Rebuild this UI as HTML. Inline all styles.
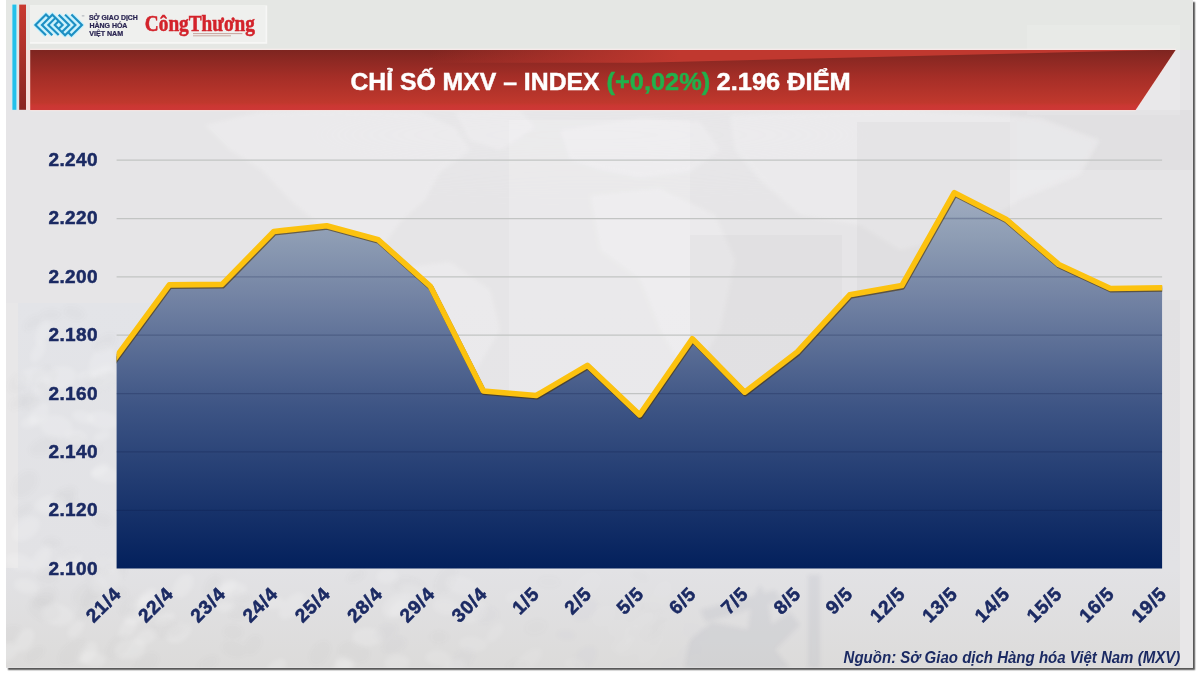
<!DOCTYPE html>
<html lang="vi">
<head>
<meta charset="utf-8">
<title>Chỉ số MXV – Index</title>
<style>
html,body{margin:0;padding:0;background:#fff;}
body{width:1200px;height:675px;overflow:hidden;position:relative;font-family:"Liberation Sans",sans-serif;}
#panel{position:absolute;left:6px;top:0;width:1186.5px;height:667.5px;background:#e6e5e7;box-shadow:2.2px 2.2px 1.3px rgba(80,80,80,.95);}
svg{position:absolute;left:0;top:0;}
.ylab text,.xlab text{font-family:"Liberation Sans",sans-serif;font-weight:bold;font-size:19px;fill:#1b2a63;stroke:#1b2a63;stroke-width:.5px;letter-spacing:.4px;}
.xlab text{letter-spacing:.9px;stroke-width:.55px;}
.mxvt text{font-family:"Liberation Sans",sans-serif;font-weight:bold;font-size:6.9px;fill:#2a2552;stroke:#2a2552;stroke-width:.22px;}
.ct{font-family:"Liberation Serif",serif;font-weight:bold;font-size:22.9px;fill:#d3232b;stroke:#d3232b;stroke-width:.55px;}
.grid line{stroke:#c2c4c3;stroke-width:1.25;}
.grid2 line{stroke:#0a1440;stroke-opacity:.22;stroke-width:1.3;}
.title text{font-family:"Liberation Sans",sans-serif;font-weight:bold;font-size:23.7px;fill:#fff;stroke:#fff;stroke-width:.45px;}
.src{font-family:"Liberation Sans",sans-serif;font-weight:bold;font-style:italic;font-size:15.7px;fill:#1b2a63;}
</style>
</head>
<body>
<div id="panel"></div>
<svg width="1200" height="675" viewBox="0 0 1200 675">
<defs>
<clipPath id="aclip"><polygon points="116.6,568.6 116.6,356.4 169.3,284.9 222.0,284.4 273.8,231.5 326.7,225.7 378.3,239.8 430.4,286.4 483.3,391.0 536.2,395.5 587.4,365.3 639.6,414.9 692.3,338.8 744.7,392.2 797.3,351.9 849.7,294.8 901.8,285.6 954.3,192.7 1006.0,219.2 1058.8,264.5 1110.5,288.5 1162.1,287.7 1162.1,568.6"/></clipPath>
<clipPath id="plot"><rect x="116.6" y="150" width="1045.6" height="430"/></clipPath>
<clipPath id="pclip"><rect x="6" y="0" width="1186.5" height="667.5"/></clipPath>
<filter id="b4" x="-20%" y="-20%" width="140%" height="140%"><feGaussianBlur stdDeviation="4"/></filter>
<filter id="b2" x="-20%" y="-20%" width="140%" height="140%"><feGaussianBlur stdDeviation="2"/></filter>
<filter id="b25" x="-30%" y="-60%" width="160%" height="220%"><feGaussianBlur stdDeviation="25"/></filter>
<linearGradient id="photo" x1="0" y1="303" x2="0" y2="668" gradientUnits="userSpaceOnUse">
<stop offset="0" stop-color="#e3e4e8"/><stop offset=".72" stop-color="#e2e2e5"/><stop offset="1" stop-color="#dcdbda"/>
</linearGradient>
<linearGradient id="photo2" x1="0" y1="303" x2="0" y2="668" gradientUnits="userSpaceOnUse">
<stop offset="0" stop-color="#e3e4e8" stop-opacity="0"/><stop offset=".55" stop-color="#e2e2e6" stop-opacity=".3"/><stop offset=".73" stop-color="#e2e2e5" stop-opacity="1"/><stop offset="1" stop-color="#dcdbda"/>
</linearGradient>
<linearGradient id="ban" x1="0" y1="50" x2="0" y2="110" gradientUnits="userSpaceOnUse">
<stop offset="0" stop-color="#7e2520"/><stop offset=".45" stop-color="#a52e27"/><stop offset=".88" stop-color="#c0382d"/><stop offset=".93" stop-color="#cb3733"/><stop offset="1" stop-color="#cd3836"/>
</linearGradient>
<linearGradient id="rbar" x1="0" y1="5" x2="0" y2="109" gradientUnits="userSpaceOnUse">
<stop offset="0" stop-color="#c83a30"/><stop offset="1" stop-color="#892622"/>
</linearGradient>
<linearGradient id="wedge" x1="430" y1="0" x2="680" y2="0" gradientUnits="userSpaceOnUse">
<stop offset="0" stop-color="#c0382f" stop-opacity="0"/><stop offset="1" stop-color="#c0382f" stop-opacity="1"/>
</linearGradient>
<linearGradient id="area" x1="0" y1="190" x2="0" y2="568.6" gradientUnits="userSpaceOnUse">
<stop offset="0" stop-color="#a2aec2"/>
<stop offset="0.124" stop-color="#8e9db4"/>
<stop offset="0.29" stop-color="#7282a3"/>
<stop offset="0.568" stop-color="#3e5585"/>
<stop offset="0.766" stop-color="#223c72"/>
<stop offset="1" stop-color="#03205c"/>
</linearGradient>
</defs>

<!-- background: faint map + photo overlays -->
<g clip-path="url(#pclip)">
<rect x="6" y="0" width="1187" height="50" fill="#e5e7e4"/>
<ellipse cx="590" cy="135" rx="330" ry="32" fill="#f1f0f3" opacity=".2" filter="url(#b25)"/>
<rect x="1010" y="110" width="183" height="60" fill="#000" opacity=".02"/>
<!-- world map hints -->
<g fill="#f2f1f3" opacity=".45" filter="url(#b2)">
<path d="M205,125 L260,112 L340,110 L420,112 L455,128 L470,150 L440,172 L425,200 L400,222 L380,250 L360,262 L345,240 L320,225 L290,200 L262,170 L230,150 Z"/>
<path d="M455,112 L520,110 L535,128 L500,150 L470,140 Z"/>
<path d="M400,268 L450,262 L490,290 L500,330 L470,380 L450,420 L435,380 L420,330 Z"/>
<path d="M560,130 L640,118 L700,122 L720,150 L690,172 L640,178 L600,170 L570,160 Z"/>
<path d="M590,195 L660,188 L715,215 L735,260 L720,330 L690,380 L660,330 L640,280 L600,250 Z"/>
<path d="M730,115 L900,110 L1040,118 L1100,140 L1080,175 L1020,200 L960,235 L900,250 L860,225 L800,215 L760,180 L735,150 Z"/>
<path d="M1010,330 L1080,320 L1105,350 L1070,380 L1020,370 Z"/>
</g>
<!-- faint photo rectangles -->
<rect x="857" y="122" width="153" height="450" fill="#000" opacity=".022"/>
<rect x="690" y="235" width="152" height="340" fill="#000" opacity=".02"/>
<rect x="1027" y="25" width="153" height="90" fill="#fff" opacity=".12"/>
<rect x="1163" y="300" width="17" height="368" fill="#000" opacity=".015"/>
<!-- bottom photo overlay -->
<rect x="18" y="303" width="219" height="366" fill="url(#photo)"/>
<rect x="237" y="303" width="943" height="366" fill="url(#photo2)"/>
<rect x="509" y="120" width="181" height="450" fill="#fff" opacity=".16"/>
<rect x="6" y="303" width="12" height="265" fill="#ececec" opacity=".35"/>
<rect x="6" y="568" width="12" height="101" fill="url(#photo)"/>
<rect x="1180" y="300" width="13" height="368" fill="#ececec" opacity=".4"/>
<g filter="url(#b2)">
<ellipse cx="228" cy="586" rx="9.6" ry="5.8" fill="#ffffff" opacity="0.170" transform="rotate(-31 228 586)"/>
<ellipse cx="356" cy="576" rx="9.6" ry="5.0" fill="#70758a" opacity="0.030" transform="rotate(-26 356 576)"/>
<ellipse cx="88" cy="593" rx="16.6" ry="10.2" fill="#70758a" opacity="0.030" transform="rotate(-28 88 593)"/>
<ellipse cx="35" cy="654" rx="10.2" ry="5.3" fill="#70758a" opacity="0.030" transform="rotate(-35 35 654)"/>
<ellipse cx="128" cy="628" rx="12.0" ry="7.3" fill="#ffffff" opacity="0.170" transform="rotate(-55 128 628)"/>
<ellipse cx="146" cy="637" rx="11.5" ry="7.1" fill="#ffffff" opacity="0.170" transform="rotate(-24 146 637)"/>
<ellipse cx="72" cy="447" rx="16.0" ry="10.3" fill="#70758a" opacity="0.030" transform="rotate(-37 72 447)"/>
<ellipse cx="84" cy="612" rx="10.2" ry="6.1" fill="#70758a" opacity="0.030" transform="rotate(-57 84 612)"/>
<ellipse cx="536" cy="627" rx="11.5" ry="7.4" fill="#70758a" opacity="0.015" transform="rotate(-12 536 627)"/>
<ellipse cx="320" cy="653" rx="12.8" ry="8.1" fill="#70758a" opacity="0.030" transform="rotate(-55 320 653)"/>
<ellipse cx="454" cy="667" rx="11.3" ry="6.5" fill="#ffffff" opacity="0.124" transform="rotate(-7 454 667)"/>
<ellipse cx="24" cy="510" rx="10.0" ry="5.5" fill="#70758a" opacity="0.030" transform="rotate(-29 24 510)"/>
<ellipse cx="58" cy="615" rx="16.1" ry="10.7" fill="#ffffff" opacity="0.170" transform="rotate(9 58 615)"/>
<ellipse cx="292" cy="606" rx="16.7" ry="8.8" fill="#ffffff" opacity="0.170" transform="rotate(-46 292 606)"/>
<ellipse cx="165" cy="619" rx="11.1" ry="5.6" fill="#ffffff" opacity="0.170" transform="rotate(-26 165 619)"/>
<ellipse cx="397" cy="663" rx="13.1" ry="8.2" fill="#ffffff" opacity="0.149" transform="rotate(-6 397 663)"/>
<ellipse cx="630" cy="647" rx="15.4" ry="8.9" fill="#ffffff" opacity="0.045" transform="rotate(-28 630 647)"/>
<ellipse cx="38" cy="352" rx="11.7" ry="6.0" fill="#ffffff" opacity="0.170" transform="rotate(-60 38 352)"/>
<ellipse cx="100" cy="470" rx="10.2" ry="5.6" fill="#ffffff" opacity="0.170" transform="rotate(-32 100 470)"/>
<ellipse cx="88" cy="653" rx="12.7" ry="7.6" fill="#ffffff" opacity="0.170" transform="rotate(-53 88 653)"/>
<ellipse cx="241" cy="597" rx="10.3" ry="5.2" fill="#70758a" opacity="0.030" transform="rotate(16 241 597)"/>
<ellipse cx="68" cy="564" rx="15.9" ry="10.2" fill="#ffffff" opacity="0.170" transform="rotate(-39 68 564)"/>
<ellipse cx="119" cy="646" rx="15.2" ry="8.6" fill="#70758a" opacity="0.030" transform="rotate(-42 119 646)"/>
<ellipse cx="689" cy="654" rx="15.5" ry="10.1" fill="#70758a" opacity="0.004" transform="rotate(-42 689 654)"/>
<ellipse cx="44" cy="377" rx="14.5" ry="10.1" fill="#70758a" opacity="0.030" transform="rotate(-24 44 377)"/>
<ellipse cx="692" cy="664" rx="10.8" ry="5.9" fill="#ffffff" opacity="0.026" transform="rotate(-44 692 664)"/>
<ellipse cx="438" cy="658" rx="12.8" ry="8.1" fill="#ffffff" opacity="0.131" transform="rotate(4 438 658)"/>
<ellipse cx="463" cy="659" rx="15.0" ry="8.9" fill="#70758a" opacity="0.021" transform="rotate(-46 463 659)"/>
<ellipse cx="234" cy="649" rx="12.2" ry="7.1" fill="#70758a" opacity="0.030" transform="rotate(16 234 649)"/>
<ellipse cx="103" cy="520" rx="10.2" ry="6.8" fill="#70758a" opacity="0.030" transform="rotate(18 103 520)"/>
<ellipse cx="19" cy="562" rx="14.2" ry="8.6" fill="#ffffff" opacity="0.170" transform="rotate(15 19 562)"/>
<ellipse cx="42" cy="386" rx="10.9" ry="6.7" fill="#ffffff" opacity="0.170" transform="rotate(-39 42 386)"/>
<ellipse cx="93" cy="659" rx="12.7" ry="7.8" fill="#ffffff" opacity="0.170" transform="rotate(12 93 659)"/>
<ellipse cx="643" cy="620" rx="13.2" ry="6.6" fill="#ffffff" opacity="0.039" transform="rotate(-25 643 620)"/>
<ellipse cx="63" cy="499" rx="13.5" ry="7.6" fill="#70758a" opacity="0.030" transform="rotate(-19 63 499)"/>
<ellipse cx="549" cy="582" rx="11.0" ry="6.1" fill="#70758a" opacity="0.014" transform="rotate(2 549 582)"/>
<ellipse cx="394" cy="645" rx="12.5" ry="7.8" fill="#70758a" opacity="0.027" transform="rotate(-20 394 645)"/>
<ellipse cx="486" cy="615" rx="12.8" ry="8.8" fill="#70758a" opacity="0.019" transform="rotate(-4 486 615)"/>
<ellipse cx="660" cy="597" rx="16.5" ry="11.1" fill="#ffffff" opacity="0.031" transform="rotate(-49 660 597)"/>
<ellipse cx="25" cy="484" rx="15.3" ry="10.4" fill="#70758a" opacity="0.030" transform="rotate(-48 25 484)"/>
<ellipse cx="463" cy="586" rx="16.7" ry="9.1" fill="#ffffff" opacity="0.120" transform="rotate(16 463 586)"/>
<ellipse cx="342" cy="667" rx="10.3" ry="6.0" fill="#ffffff" opacity="0.170" transform="rotate(-19 342 667)"/>
<ellipse cx="139" cy="603" rx="9.2" ry="5.6" fill="#ffffff" opacity="0.170" transform="rotate(-25 139 603)"/>
<ellipse cx="233" cy="632" rx="9.5" ry="6.6" fill="#70758a" opacity="0.030" transform="rotate(3 233 632)"/>
<ellipse cx="91" cy="380" rx="10.0" ry="5.9" fill="#70758a" opacity="0.030" transform="rotate(13 91 380)"/>
<ellipse cx="183" cy="586" rx="13.6" ry="8.7" fill="#ffffff" opacity="0.170" transform="rotate(-53 183 586)"/>
<ellipse cx="106" cy="475" rx="15.4" ry="8.0" fill="#ffffff" opacity="0.170" transform="rotate(8 106 475)"/>
<ellipse cx="604" cy="616" rx="13.4" ry="9.2" fill="#ffffff" opacity="0.056" transform="rotate(-39 604 616)"/>
<ellipse cx="33" cy="323" rx="10.6" ry="6.0" fill="#70758a" opacity="0.030" transform="rotate(-36 33 323)"/>
<ellipse cx="51" cy="315" rx="11.0" ry="5.5" fill="#70758a" opacity="0.030" transform="rotate(-1 51 315)"/>
<ellipse cx="134" cy="618" rx="9.9" ry="6.5" fill="#ffffff" opacity="0.170" transform="rotate(-25 134 618)"/>
<ellipse cx="585" cy="610" rx="14.5" ry="10.1" fill="#70758a" opacity="0.011" transform="rotate(-33 585 610)"/>
<ellipse cx="495" cy="633" rx="11.8" ry="6.0" fill="#ffffff" opacity="0.105" transform="rotate(-50 495 633)"/>
<ellipse cx="26" cy="529" rx="16.0" ry="10.1" fill="#ffffff" opacity="0.170" transform="rotate(-37 26 529)"/>
<ellipse cx="60" cy="378" rx="16.7" ry="11.6" fill="#ffffff" opacity="0.170" transform="rotate(-16 60 378)"/>
<ellipse cx="676" cy="602" rx="9.0" ry="5.2" fill="#70758a" opacity="0.004" transform="rotate(-22 676 602)"/>
<ellipse cx="43" cy="333" rx="12.2" ry="6.2" fill="#ffffff" opacity="0.170" transform="rotate(-58 43 333)"/>
<ellipse cx="165" cy="628" rx="15.0" ry="9.5" fill="#70758a" opacity="0.030" transform="rotate(-3 165 628)"/>
<ellipse cx="274" cy="603" rx="10.2" ry="6.6" fill="#ffffff" opacity="0.170" transform="rotate(-9 274 603)"/>
<ellipse cx="585" cy="658" rx="14.9" ry="9.9" fill="#70758a" opacity="0.011" transform="rotate(-49 585 658)"/>
<ellipse cx="354" cy="652" rx="15.6" ry="9.6" fill="#70758a" opacity="0.030" transform="rotate(11 354 652)"/>
<ellipse cx="31" cy="404" rx="9.8" ry="6.6" fill="#70758a" opacity="0.030" transform="rotate(-15 31 404)"/>
<ellipse cx="439" cy="637" rx="9.0" ry="6.0" fill="#70758a" opacity="0.023" transform="rotate(-0 439 637)"/>
<ellipse cx="87" cy="376" rx="9.6" ry="5.3" fill="#ffffff" opacity="0.170" transform="rotate(-2 87 376)"/>
<ellipse cx="518" cy="666" rx="12.1" ry="7.2" fill="#70758a" opacity="0.017" transform="rotate(-5 518 666)"/>
<ellipse cx="32" cy="376" rx="14.9" ry="8.4" fill="#ffffff" opacity="0.170" transform="rotate(-15 32 376)"/>
<ellipse cx="44" cy="598" rx="14.5" ry="9.2" fill="#70758a" opacity="0.030" transform="rotate(-37 44 598)"/>
<ellipse cx="102" cy="362" rx="16.8" ry="11.6" fill="#ffffff" opacity="0.170" transform="rotate(-59 102 362)"/>
<ellipse cx="574" cy="665" rx="11.1" ry="6.0" fill="#ffffff" opacity="0.070" transform="rotate(16 574 665)"/>
<ellipse cx="408" cy="586" rx="16.6" ry="8.8" fill="#70758a" opacity="0.025" transform="rotate(6 408 586)"/>
<ellipse cx="102" cy="436" rx="9.2" ry="4.6" fill="#ffffff" opacity="0.170" transform="rotate(-21 102 436)"/>
<ellipse cx="213" cy="586" rx="11.5" ry="7.7" fill="#70758a" opacity="0.030" transform="rotate(-60 213 586)"/>
<ellipse cx="588" cy="584" rx="14.7" ry="10.0" fill="#ffffff" opacity="0.064" transform="rotate(-37 588 584)"/>
<ellipse cx="276" cy="668" rx="11.9" ry="7.0" fill="#ffffff" opacity="0.170" transform="rotate(-38 276 668)"/>
<ellipse cx="73" cy="652" rx="16.5" ry="9.1" fill="#70758a" opacity="0.030" transform="rotate(-39 73 652)"/>
<ellipse cx="135" cy="608" rx="16.1" ry="10.6" fill="#70758a" opacity="0.030" transform="rotate(-10 135 608)"/>
<ellipse cx="659" cy="625" rx="9.4" ry="6.1" fill="#70758a" opacity="0.006" transform="rotate(-24 659 625)"/>
<ellipse cx="105" cy="343" rx="12.8" ry="7.3" fill="#70758a" opacity="0.030" transform="rotate(-36 105 343)"/>
<ellipse cx="683" cy="597" rx="11.4" ry="7.0" fill="#ffffff" opacity="0.026" transform="rotate(-28 683 597)"/>
<ellipse cx="115" cy="592" rx="13.0" ry="7.1" fill="#70758a" opacity="0.030" transform="rotate(13 115 592)"/>
<ellipse cx="27" cy="399" rx="9.7" ry="5.3" fill="#70758a" opacity="0.030" transform="rotate(-39 27 399)"/>
<ellipse cx="621" cy="644" rx="12.3" ry="7.4" fill="#ffffff" opacity="0.049" transform="rotate(-30 621 644)"/>
<ellipse cx="45" cy="599" rx="10.0" ry="6.0" fill="#70758a" opacity="0.030" transform="rotate(-10 45 599)"/>
<ellipse cx="56" cy="426" rx="16.6" ry="11.1" fill="#ffffff" opacity="0.170" transform="rotate(10 56 426)"/>
<ellipse cx="25" cy="640" rx="12.8" ry="7.9" fill="#ffffff" opacity="0.170" transform="rotate(-60 25 640)"/>
<ellipse cx="649" cy="651" rx="16.8" ry="9.2" fill="#ffffff" opacity="0.036" transform="rotate(-51 649 651)"/>
<ellipse cx="367" cy="637" rx="14.8" ry="9.3" fill="#ffffff" opacity="0.163" transform="rotate(1 367 637)"/>
<ellipse cx="387" cy="576" rx="10.9" ry="7.4" fill="#ffffff" opacity="0.153" transform="rotate(-8 387 576)"/>
<ellipse cx="91" cy="596" rx="14.6" ry="7.6" fill="#70758a" opacity="0.030" transform="rotate(-54 91 596)"/>
<ellipse cx="74" cy="313" rx="11.4" ry="6.8" fill="#70758a" opacity="0.030" transform="rotate(17 74 313)"/>
<ellipse cx="41" cy="560" rx="14.6" ry="8.2" fill="#ffffff" opacity="0.170" transform="rotate(-58 41 560)"/>
<ellipse cx="473" cy="612" rx="14.3" ry="9.8" fill="#ffffff" opacity="0.115" transform="rotate(-42 473 612)"/>
<ellipse cx="238" cy="612" rx="10.6" ry="7.0" fill="#70758a" opacity="0.030" transform="rotate(-1 238 612)"/>
<ellipse cx="145" cy="665" rx="15.6" ry="8.5" fill="#70758a" opacity="0.030" transform="rotate(-42 145 665)"/>
<ellipse cx="208" cy="663" rx="10.5" ry="5.7" fill="#70758a" opacity="0.030" transform="rotate(-27 208 663)"/>
<ellipse cx="664" cy="586" rx="10.7" ry="7.4" fill="#ffffff" opacity="0.029" transform="rotate(-49 664 586)"/>
<ellipse cx="44" cy="610" rx="16.1" ry="10.4" fill="#70758a" opacity="0.030" transform="rotate(20 44 610)"/>
<ellipse cx="232" cy="590" rx="15.0" ry="7.6" fill="#ffffff" opacity="0.170" transform="rotate(-7 232 590)"/>
<ellipse cx="18" cy="383" rx="11.8" ry="8.2" fill="#70758a" opacity="0.030" transform="rotate(-50 18 383)"/>
<ellipse cx="147" cy="606" rx="15.6" ry="9.1" fill="#ffffff" opacity="0.170" transform="rotate(-56 147 606)"/>
<ellipse cx="52" cy="543" rx="9.2" ry="5.4" fill="#70758a" opacity="0.030" transform="rotate(5 52 543)"/>
<ellipse cx="104" cy="377" rx="15.0" ry="10.2" fill="#ffffff" opacity="0.170" transform="rotate(-33 104 377)"/>
<ellipse cx="670" cy="631" rx="14.7" ry="8.3" fill="#ffffff" opacity="0.027" transform="rotate(-38 670 631)"/>
<ellipse cx="529" cy="660" rx="16.5" ry="8.4" fill="#ffffff" opacity="0.090" transform="rotate(-41 529 660)"/>
<ellipse cx="670" cy="664" rx="11.0" ry="6.5" fill="#70758a" opacity="0.005" transform="rotate(-21 670 664)"/>
<ellipse cx="130" cy="649" rx="15.6" ry="10.2" fill="#ffffff" opacity="0.170" transform="rotate(-11 130 649)"/>
<ellipse cx="225" cy="607" rx="9.6" ry="5.2" fill="#ffffff" opacity="0.170" transform="rotate(0 225 607)"/>
<ellipse cx="47" cy="575" rx="11.6" ry="8.1" fill="#70758a" opacity="0.030" transform="rotate(11 47 575)"/>
<ellipse cx="65" cy="495" rx="12.6" ry="6.9" fill="#70758a" opacity="0.030" transform="rotate(-27 65 495)"/>
<ellipse cx="473" cy="644" rx="14.3" ry="7.5" fill="#ffffff" opacity="0.115" transform="rotate(7 473 644)"/>
<ellipse cx="398" cy="608" rx="10.6" ry="5.8" fill="#ffffff" opacity="0.149" transform="rotate(-40 398 608)"/>
<ellipse cx="619" cy="628" rx="12.2" ry="8.5" fill="#ffffff" opacity="0.050" transform="rotate(-19 619 628)"/>
<ellipse cx="566" cy="635" rx="9.8" ry="5.8" fill="#70758a" opacity="0.013" transform="rotate(6 566 635)"/>
<ellipse cx="640" cy="576" rx="10.0" ry="5.4" fill="#70758a" opacity="0.007" transform="rotate(18 640 576)"/>
<ellipse cx="651" cy="608" rx="12.6" ry="7.0" fill="#70758a" opacity="0.006" transform="rotate(2 651 608)"/>
<ellipse cx="76" cy="629" rx="10.7" ry="6.2" fill="#ffffff" opacity="0.170" transform="rotate(-49 76 629)"/>
<ellipse cx="180" cy="630" rx="10.6" ry="5.3" fill="#70758a" opacity="0.030" transform="rotate(-34 180 630)"/>
<ellipse cx="93" cy="452" rx="9.5" ry="4.9" fill="#70758a" opacity="0.030" transform="rotate(-28 93 452)"/>
<ellipse cx="83" cy="417" rx="11.3" ry="6.3" fill="#ffffff" opacity="0.170" transform="rotate(16 83 417)"/>
<ellipse cx="397" cy="606" rx="15.9" ry="11.1" fill="#ffffff" opacity="0.149" transform="rotate(-31 397 606)"/>
<ellipse cx="103" cy="420" rx="15.6" ry="9.0" fill="#ffffff" opacity="0.170" transform="rotate(11 103 420)"/>
<ellipse cx="115" cy="573" rx="14.1" ry="9.6" fill="#70758a" opacity="0.030" transform="rotate(-53 115 573)"/>
<ellipse cx="45" cy="446" rx="16.4" ry="8.6" fill="#70758a" opacity="0.030" transform="rotate(-21 45 446)"/>
<ellipse cx="107" cy="564" rx="12.9" ry="6.6" fill="#ffffff" opacity="0.170" transform="rotate(14 107 564)"/>
<ellipse cx="633" cy="632" rx="10.3" ry="6.8" fill="#ffffff" opacity="0.043" transform="rotate(-42 633 632)"/>
<ellipse cx="39" cy="414" rx="13.1" ry="7.6" fill="#ffffff" opacity="0.170" transform="rotate(-50 39 414)"/>
<ellipse cx="71" cy="507" rx="9.3" ry="6.2" fill="#70758a" opacity="0.030" transform="rotate(-51 71 507)"/>
<ellipse cx="386" cy="632" rx="12.4" ry="7.6" fill="#70758a" opacity="0.027" transform="rotate(-26 386 632)"/>
<ellipse cx="76" cy="437" rx="10.9" ry="7.1" fill="#ffffff" opacity="0.170" transform="rotate(2 76 437)"/>
<ellipse cx="30" cy="422" rx="9.7" ry="5.7" fill="#ffffff" opacity="0.170" transform="rotate(-19 30 422)"/>
<ellipse cx="446" cy="580" rx="15.2" ry="9.2" fill="#70758a" opacity="0.022" transform="rotate(-56 446 580)"/>
<ellipse cx="99" cy="569" rx="14.9" ry="9.8" fill="#70758a" opacity="0.030" transform="rotate(-45 99 569)"/>
<ellipse cx="345" cy="664" rx="10.3" ry="6.8" fill="#ffffff" opacity="0.170" transform="rotate(14 345 664)"/>
<ellipse cx="102" cy="381" rx="15.5" ry="8.2" fill="#70758a" opacity="0.030" transform="rotate(-20 102 381)"/>
<ellipse cx="147" cy="597" rx="11.6" ry="5.9" fill="#ffffff" opacity="0.170" transform="rotate(-45 147 597)"/>
<ellipse cx="656" cy="637" rx="10.3" ry="6.8" fill="#70758a" opacity="0.006" transform="rotate(-51 656 637)"/>
<ellipse cx="446" cy="607" rx="13.4" ry="8.3" fill="#ffffff" opacity="0.127" transform="rotate(11 446 607)"/>
<ellipse cx="695" cy="632" rx="15.4" ry="8.5" fill="#70758a" opacity="0.004" transform="rotate(19 695 632)"/>
<ellipse cx="253" cy="645" rx="10.4" ry="6.8" fill="#70758a" opacity="0.030" transform="rotate(-56 253 645)"/>
<ellipse cx="179" cy="633" rx="13.7" ry="8.7" fill="#ffffff" opacity="0.170" transform="rotate(-35 179 633)"/>
<ellipse cx="26" cy="586" rx="12.5" ry="7.5" fill="#ffffff" opacity="0.170" transform="rotate(12 26 586)"/>
<ellipse cx="18" cy="402" rx="9.9" ry="5.6" fill="#70758a" opacity="0.030" transform="rotate(-42 18 402)"/>
<ellipse cx="413" cy="592" rx="12.8" ry="6.7" fill="#ffffff" opacity="0.142" transform="rotate(15 413 592)"/>
<ellipse cx="106" cy="581" rx="16.0" ry="10.5" fill="#ffffff" opacity="0.170" transform="rotate(-28 106 581)"/>
<ellipse cx="10" cy="634" rx="11.8" ry="7.4" fill="#70758a" opacity="0.030" transform="rotate(-24 10 634)"/>
<ellipse cx="514" cy="596" rx="9.4" ry="5.7" fill="#ffffff" opacity="0.097" transform="rotate(-28 514 596)"/>
<ellipse cx="70" cy="555" rx="10.1" ry="5.5" fill="#70758a" opacity="0.030" transform="rotate(-11 70 555)"/>
<ellipse cx="47" cy="388" rx="9.4" ry="6.4" fill="#70758a" opacity="0.030" transform="rotate(3 47 388)"/>
<ellipse cx="6" cy="653" rx="12.7" ry="8.2" fill="#ffffff" opacity="0.170" transform="rotate(-24 6 653)"/>
<ellipse cx="50" cy="505" rx="14.6" ry="9.7" fill="#ffffff" opacity="0.170" transform="rotate(-3 50 505)"/>
</g>
<!-- pump jack silhouette -->
<g fill="#6d748c" opacity=".085" filter="url(#b2)">
<path d="M684,668 L690,640 L712,622 L760,632 L790,612 L800,625 L775,650 L790,668 Z"/>
<path d="M742,668 L752,600 L760,585 L768,600 L778,668 Z"/>
<rect x="808" y="575" width="12" height="93"/>
<path d="M700,610 L775,590 L782,600 L706,622 Z"/>
</g>
</g>

<!-- header bars -->
<rect x="11.6" y="4.4" width="5.6" height="105.8" fill="#c9f2fb" opacity=".55"/>
<rect x="12.4" y="4.6" width="4" height="105.2" fill="#24c0ea"/>
<rect x="19.2" y="4.6" width="6.8" height="105.2" fill="url(#rbar)"/>
<rect x="26.2" y="50" width="4" height="60" fill="#f7dcd8" opacity=".9"/>
<!-- logo strip -->
<rect x="30" y="5.4" width="237.2" height="38.4" fill="#f7f7f6"/>
<rect x="30" y="5.4" width="235.6" height="36.6" fill="#eff0ee"/>
<!-- MXV mark -->
<g fill="none" stroke-linecap="butt" stroke-linejoin="miter" transform="translate(58.7 24.95) scale(.935 .925) translate(-58.7 -24.95)">
<g stroke="#c4f1fd" stroke-width="4.8" stroke-linejoin="round">
<path d="M45.1,36.2 L33.8,24.95 L45.1,13.6 L48.6,17.1"/>
<path d="M51.9,36.1 L40.8,24.95 L51.9,13.9 L62.9,24.95 L58.7,29.15"/>
<path d="M58.7,35.9 L47.6,24.95 L55.2,17.3"/>
<path d="M72.3,13.7 L83.6,24.95 L72.3,36.3 L68.8,32.8"/>
<path d="M65.5,13.8 L76.6,24.95 L65.5,36 L54.5,24.95 L58.7,20.75"/>
<path d="M58.7,14 L69.8,24.95 L62.2,32.6"/>
</g>
<g stroke="#1d8fc3" stroke-width="2.25">
<path d="M45.1,36.2 L33.8,24.95 L45.1,13.6 L48.6,17.1"/>
<path d="M51.9,36.1 L40.8,24.95 L51.9,13.9 L62.9,24.95 L58.7,29.15"/>
<path d="M58.7,35.9 L47.6,24.95 L55.2,17.3"/>
<path d="M72.3,13.7 L83.6,24.95 L72.3,36.3 L68.8,32.8"/>
<path d="M65.5,13.8 L76.6,24.95 L65.5,36 L54.5,24.95 L58.7,20.75"/>
<path d="M58.7,14 L69.8,24.95 L62.2,32.6"/>
</g>
</g>
<rect x="81.8" y="15.5" width="2.6" height=".8" fill="#9aa0a8"/>
<g class="mxvt">
<text x="89" y="19.9" textLength="48.8" lengthAdjust="spacingAndGlyphs">SỞ GIAO DỊCH</text>
<text x="89.4" y="27.8" textLength="38" lengthAdjust="spacingAndGlyphs">HÀNG HÓA</text>
<text x="89.2" y="35.8" textLength="34" lengthAdjust="spacingAndGlyphs">VIỆT NAM</text>
</g>
<text class="ct" x="144.8" y="31" textLength="110.2" lengthAdjust="spacingAndGlyphs">CôngThương</text>
<rect x="193" y="33.1" width="49.4" height="1" fill="#b98a80" opacity=".75"/>
<rect x="193" y="35.3" width="38" height="1" fill="#b98a80" opacity=".7"/>
<!-- banner -->
<rect x="30" y="48.6" width="1146" height="1.4" fill="#f6eeec" opacity=".8"/>
<polygon points="30.2,50 1176,50 1135.6,110.6 30.2,110.6" fill="#fbe3df" opacity=".85" stroke="#fbe3df" stroke-width="1" stroke-opacity=".6"/>
<polygon points="30.2,50 1175.6,50 1135.6,109.9 30.2,109.9" fill="url(#ban)"/>
<polygon points="430,50 1158,50 640,62.8 430,62.8" fill="url(#wedge)"/>
<g class="title">
<text x="350.4" y="89.9" textLength="249.2" lengthAdjust="spacingAndGlyphs">CHỈ SỐ MXV – INDEX</text>
<text x="606.6" y="89.9" textLength="103.6" lengthAdjust="spacingAndGlyphs" style="fill:#22b04b;stroke:#22b04b">(+0,02%)</text>
<text x="716.6" y="89.9" textLength="134.2" lengthAdjust="spacingAndGlyphs">2.196 ĐIỂM</text>
</g>

<!-- chart -->
<g class="grid">
<line x1="116.6" x2="1162.1" y1="160.2" y2="160.2"/>
<line x1="116.6" x2="1162.1" y1="218.5" y2="218.5"/>
<line x1="116.6" x2="1162.1" y1="276.9" y2="276.9"/>
<line x1="116.6" x2="1162.1" y1="335.2" y2="335.2"/>
<line x1="116.6" x2="1162.1" y1="393.6" y2="393.6"/>
<line x1="116.6" x2="1162.1" y1="451.9" y2="451.9"/>
<line x1="116.6" x2="1162.1" y1="510.3" y2="510.3"/>
</g>
<polygon points="116.6,568.6 116.6,356.4 169.3,284.9 222.0,284.4 273.8,231.5 326.7,225.7 378.3,239.8 430.4,286.4 483.3,391.0 536.2,395.5 587.4,365.3 639.6,414.9 692.3,338.8 744.7,392.2 797.3,351.9 849.7,294.8 901.8,285.6 954.3,192.7 1006.0,219.2 1058.8,264.5 1110.5,288.5 1162.1,287.7 1162.1,568.6" fill="url(#area)"/>
<g class="grid2" clip-path="url(#aclip)">
<line x1="116.6" x2="1162.1" y1="160.2" y2="160.2"/>
<line x1="116.6" x2="1162.1" y1="218.5" y2="218.5"/>
<line x1="116.6" x2="1162.1" y1="276.9" y2="276.9"/>
<line x1="116.6" x2="1162.1" y1="335.2" y2="335.2"/>
<line x1="116.6" x2="1162.1" y1="393.6" y2="393.6"/>
<line x1="116.6" x2="1162.1" y1="451.9" y2="451.9"/>
<line x1="116.6" x2="1162.1" y1="510.3" y2="510.3"/>
</g>
<g clip-path="url(#plot)">
<polyline points="111.9,362.8 116.6,356.4 169.3,284.9 222.0,284.4 273.8,231.5 326.7,225.7 378.3,239.8 430.4,286.4 483.3,391.0 536.2,395.5 587.4,365.3 639.6,414.9 692.3,338.8 744.7,392.2 797.3,351.9 849.7,294.8 901.8,285.6 954.3,192.7 1006.0,219.2 1058.8,264.5 1110.5,288.5 1162.1,287.7 1170.1,287.6" fill="none" stroke="#4a3204" stroke-opacity=".6" stroke-width="5.6" stroke-linejoin="round" transform="translate(0.6,1.3)"/>
<polyline points="111.9,362.8 116.6,356.4 169.3,284.9 222.0,284.4 273.8,231.5 326.7,225.7 378.3,239.8 430.4,286.4 483.3,391.0 536.2,395.5 587.4,365.3 639.6,414.9 692.3,338.8 744.7,392.2 797.3,351.9 849.7,294.8 901.8,285.6 954.3,192.7 1006.0,219.2 1058.8,264.5 1110.5,288.5 1162.1,287.7 1170.1,287.6" fill="none" stroke="#fcc20f" stroke-width="5.6" stroke-linejoin="round"/>
</g>
<g class="ylab">
<text x="98" y="166.1" text-anchor="end">2.240</text>
<text x="98" y="224.4" text-anchor="end">2.220</text>
<text x="98" y="282.8" text-anchor="end">2.200</text>
<text x="98" y="341.1" text-anchor="end">2.180</text>
<text x="98" y="399.5" text-anchor="end">2.160</text>
<text x="98" y="457.8" text-anchor="end">2.140</text>
<text x="98" y="516.2" text-anchor="end">2.120</text>
<text x="98" y="574.5" text-anchor="end">2.100</text>
</g>
<g class="xlab">
<text text-anchor="end" transform="translate(122.4,594.9) rotate(-45)">21/4</text>
<text text-anchor="end" transform="translate(174.7,594.9) rotate(-45)">22/4</text>
<text text-anchor="end" transform="translate(226.9,594.9) rotate(-45)">23/4</text>
<text text-anchor="end" transform="translate(279.2,594.9) rotate(-45)">24/4</text>
<text text-anchor="end" transform="translate(331.5,594.9) rotate(-45)">25/4</text>
<text text-anchor="end" transform="translate(383.8,594.9) rotate(-45)">28/4</text>
<text text-anchor="end" transform="translate(436.1,594.9) rotate(-45)">29/4</text>
<text text-anchor="end" transform="translate(488.3,594.9) rotate(-45)">30/4</text>
<text text-anchor="end" transform="translate(540.6,594.9) rotate(-45)">1/5</text>
<text text-anchor="end" transform="translate(592.9,594.9) rotate(-45)">2/5</text>
<text text-anchor="end" transform="translate(645.1,594.9) rotate(-45)">5/5</text>
<text text-anchor="end" transform="translate(697.4,594.9) rotate(-45)">6/5</text>
<text text-anchor="end" transform="translate(749.7,594.9) rotate(-45)">7/5</text>
<text text-anchor="end" transform="translate(802.0,594.9) rotate(-45)">8/5</text>
<text text-anchor="end" transform="translate(854.2,594.9) rotate(-45)">9/5</text>
<text text-anchor="end" transform="translate(906.5,594.9) rotate(-45)">12/5</text>
<text text-anchor="end" transform="translate(958.8,594.9) rotate(-45)">13/5</text>
<text text-anchor="end" transform="translate(1011.1,594.9) rotate(-45)">14/5</text>
<text text-anchor="end" transform="translate(1063.3,594.9) rotate(-45)">15/5</text>
<text text-anchor="end" transform="translate(1115.6,594.9) rotate(-45)">16/5</text>
<text text-anchor="end" transform="translate(1167.9,594.9) rotate(-45)">19/5</text>
</g>
<text class="src" x="843.6" y="662.8" textLength="336.6" lengthAdjust="spacingAndGlyphs">Nguồn: Sở Giao dịch Hàng hóa Việt Nam (MXV)</text>
</svg>
</body>
</html>
